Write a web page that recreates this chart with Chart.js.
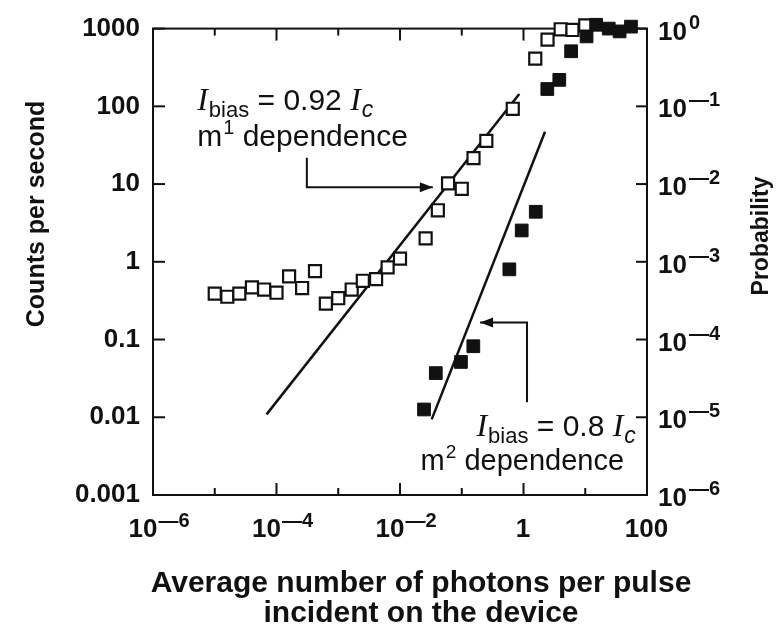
<!DOCTYPE html>
<html><head><meta charset="utf-8">
<script src="https://cdn.jsdelivr.net/npm/chart.js@4.4.0/dist/chart.umd.min.js"></script>
<style>html,body{margin:0;padding:0;background:#fff;}canvas{display:block;}</style>
</head><body>
<canvas id="c" width="779" height="634"></canvas>
<script>
// ---- data ----
const openX = [1.0e-5, 1.6e-5, 2.5e-5, 4.0e-5, 6.3e-5, 1.0e-4, 1.6e-4, 2.6e-4, 4.2e-4, 6.3e-4, 1.0e-3, 1.65e-3, 2.5e-3, 4.1e-3, 6.3e-3, 1.0e-2, 2.6e-2, 4.1e-2, 6.0e-2, 1.0e-1, 1.55e-1, 2.5e-1, 6.7e-1, 1.55, 2.45, 4.0, 6.2, 10];
const openY = [0.39, 0.355, 0.39, 0.47, 0.44, 0.40, 0.65, 0.46, 0.76, 0.29, 0.34, 0.44, 0.57, 0.60, 0.85, 1.1, 2.0, 4.6, 10.2, 8.7, 21.6, 36, 93, 410, 720, 980, 960, 1100];
const filledX = [0.0245, 0.038, 0.097, 0.154, 0.59, 0.935, 1.58, 2.43, 3.8, 5.9, 10.5, 15, 24, 36, 55];
const filledY = [0.0126, 0.037, 0.0515, 0.082, 0.80, 2.53, 4.4, 167, 219, 511, 794, 1120, 1000, 920, 1060];
const fit1X = [6.9e-5, 0.855];
const fit1Y = [0.0109, 144];
const fit2X = [0.0326, 2.23];
const fit2Y = [0.0094, 47];
const countTicks = [0.001, 0.01, 0.1, 1, 10, 100, 1000];
const countTickLabels = ['0.001', '0.01', '0.1', '1', '10', '100', '1000'];
const photonTicks = [1e-6, 1e-5, 1e-4, 1e-3, 1e-2, 1e-1, 1, 10, 100];
const photonTickBase = ['10', '', '10', '', '10', '', '1', '', '100'];
const photonTickExp = ['\u20146', '', '\u20144', '', '\u20142', '', '', '', ''];
const probTicks = [1e-6, 1e-5, 1e-4, 1e-3, 1e-2, 1e-1, 1];
const probTickExp = ['\u20146', '\u20145', '\u20144', '\u20143', '\u20142', '\u20141', '0'];

// annotation anchors, in data units (x: photons, y: counts per second)
const ann1Text = {x1: 5.2e-6, x2: 5.2e-6, y1: 88.5, y2: 30.9};
const ann1Arrow = [[3.1e-4, 21.8], [3.1e-4, 9.1], [0.034, 9.1]];
const ann2Text = {x1: 66, x2: 42.5, y1: 0.00577, y2: 0.00207};
const ann2Arrow = [[1.14, 0.0156], [1.14, 0.166], [0.198, 0.166]];

const SANS = '"Liberation Sans", Arial, Helvetica, sans-serif';
const SERIF = '"Liberation Serif", "Times New Roman", serif';
const INK = '#111';

function pts(xs, ys) { return xs.map((x, i) => ({x: x, y: ys[i]})); }
function near(a, b) { return Math.abs(Math.log10(a) - Math.log10(b)) < 1e-6; }

function drawRich(ctx, parts, x, y, align) {
  let total = 0;
  parts.forEach(p => { ctx.font = p.font; p.w = ctx.measureText(p.t).width + (p.gap || 0); total += p.w; });
  let cx = align === 'right' ? x - total : align === 'center' ? x - total / 2 : x;
  parts.forEach(p => { ctx.font = p.font; ctx.fillText(p.t, cx, y + (p.dy || 0)); cx += p.w; });
}
function seg(ctx, x1, y1, x2, y2) { ctx.beginPath(); ctx.moveTo(x1, y1); ctx.lineTo(x2, y2); ctx.stroke(); }
function arrow(ctx, path) {
  ctx.beginPath();
  ctx.moveTo(path[0][0], path[0][1]);
  for (let i = 1; i < path.length; i++) ctx.lineTo(path[i][0], path[i][1]);
  ctx.stroke();
  const [ax, ay] = path[path.length - 2], [bx, by] = path[path.length - 1];
  const ang = Math.atan2(by - ay, bx - ax), L = 13, W = 5;
  ctx.beginPath();
  ctx.moveTo(bx, by);
  ctx.lineTo(bx - L * Math.cos(ang) + W * Math.sin(ang), by - L * Math.sin(ang) - W * Math.cos(ang));
  ctx.lineTo(bx - L * Math.cos(ang) - W * Math.sin(ang), by - L * Math.sin(ang) + W * Math.cos(ang));
  ctx.closePath(); ctx.fill();
}

const framePlugin = {
  id: 'frame',
  beforeDatasetsDraw(chart) {
    const {ctx, chartArea: a, scales: {x, y, y2}} = chart;
    ctx.save();
    ctx.strokeStyle = INK; ctx.lineWidth = 2;
    ctx.strokeRect(a.left, a.top, a.right - a.left, a.bottom - a.top);
    photonTicks.forEach((v, i) => {
      const px = x.getPixelForValue(v);
      const len = i % 2 === 0 ? 12 : 7;
      seg(ctx, px, a.bottom, px, a.bottom - len);
      seg(ctx, px, a.top, px, a.top + len);
    });
    countTicks.forEach(v => { const py = y.getPixelForValue(v); seg(ctx, a.left, py, a.left + 12, py); });
    probTicks.forEach(v => { const py = y2.getPixelForValue(v); seg(ctx, a.right, py, a.right - 11, py); });
    ctx.restore();
  },
  afterDraw(chart) {
    const {ctx, chartArea: a, scales: {x, y, y2}} = chart;
    ctx.save();
    ctx.fillStyle = INK; ctx.strokeStyle = INK;
    ctx.textAlign = 'left'; ctx.textBaseline = 'alphabetic';
    const B = 'bold 26px ' + SANS, BS = 'bold 20px ' + SANS;
    // x tick labels
    photonTicks.forEach((v, i) => {
      if (!photonTickBase[i]) return;
      const px = x.getPixelForValue(v);
      const parts = [{t: photonTickBase[i], font: B, gap: 1}];
      if (photonTickExp[i]) parts.push({t: photonTickExp[i], font: BS, dy: -10});
      drawRich(ctx, parts, px + (photonTickExp[i] ? 6 : 0), a.bottom + 42, 'center');
    });
    // right tick labels
    probTicks.forEach((v, i) => {
      const py = y2.getPixelForValue(v);
      drawRich(ctx, [{t: '10', font: B, gap: 2}, {t: probTickExp[i], font: BS, dy: -11}], a.right + 11, py + 11, 'left');
    });
    // axis titles
    ctx.textAlign = 'center'; ctx.textBaseline = 'middle';
    ctx.font = 'bold 25px ' + SANS;
    ctx.save(); ctx.translate(37, 214); ctx.rotate(-Math.PI / 2); ctx.fillText('Counts per second', 0, 0); ctx.restore();
    ctx.font = 'bold 23px ' + SANS;
    ctx.save(); ctx.translate(762, 236); ctx.rotate(-Math.PI / 2); ctx.fillText('Probability', 0, 0); ctx.restore();
    ctx.font = 'bold 30px ' + SANS;
    ctx.fillText('Average number of photons per pulse', 421, 584);
    ctx.fillText('incident on the device', 421, 614);
    // annotations
    ctx.textAlign = 'left'; ctx.textBaseline = 'alphabetic';
    const R = '30px ' + SANS, RS = '22px ' + SANS, I = 'italic 32px ' + SERIF, IS = 'italic 23px ' + SANS;
    drawRich(ctx, [{t: 'I', font: I, gap: 1}, {t: 'bias', font: RS, dy: 7}, {t: ' = 0.92 ', font: R}, {t: 'I', font: I, gap: 1}, {t: 'c', font: IS, dy: 7}], x.getPixelForValue(ann1Text.x1), y.getPixelForValue(ann1Text.y1), 'left');
    drawRich(ctx, [{t: 'm', font: R, gap: 1}, {t: '1', font: '20px ' + SANS, dy: -12}, {t: ' dependence', font: R}], x.getPixelForValue(ann1Text.x2), y.getPixelForValue(ann1Text.y2), 'left');
    const R2 = '29px ' + SANS, RS2 = '22px ' + SANS, I2 = 'italic 32px ' + SERIF, IS2 = 'italic 23px ' + SANS;
    drawRich(ctx, [{t: 'I', font: I2, gap: 1}, {t: 'bias', font: RS2, dy: 7}, {t: ' = 0.8 ', font: '30px ' + SANS}, {t: 'I', font: I2, gap: 1}, {t: 'c', font: IS2, dy: 7}], x.getPixelForValue(ann2Text.x1), y.getPixelForValue(ann2Text.y1), 'right');
    drawRich(ctx, [{t: 'm', font: R2, gap: 1}, {t: '2', font: '19px ' + SANS, dy: -12}, {t: ' dependence', font: R2}], x.getPixelForValue(ann2Text.x2), y.getPixelForValue(ann2Text.y2), 'right');
    ctx.lineWidth = 2;
    arrow(ctx, ann1Arrow.map(p => [x.getPixelForValue(p[0]), y.getPixelForValue(p[1])]));
    arrow(ctx, ann2Arrow.map(p => [x.getPixelForValue(p[0]), y.getPixelForValue(p[1])]));
    ctx.restore();
  }
};

new Chart(document.getElementById('c'), {
  type: 'scatter',
  data: {
    datasets: [
      {label: 'Ibias = 0.8 Ic', data: pts(filledX, filledY), pointStyle: 'rect', pointRadius: 9, backgroundColor: INK, borderColor: INK, borderWidth: 1, order: 0, clip: false, yAxisID: 'y'},
      {label: 'Ibias = 0.92 Ic', data: pts(openX, openY), pointStyle: 'rect', pointRadius: 8.5, backgroundColor: '#fff', borderColor: INK, borderWidth: 2.2, order: 1, clip: false, yAxisID: 'y'},
      {type: 'line', label: 'm1 fit', data: pts(fit1X, fit1Y), showLine: true, pointRadius: 0, borderColor: INK, borderWidth: 2.5, order: 2, yAxisID: 'y'},
      {type: 'line', label: 'm2 fit', data: pts(fit2X, fit2Y), showLine: true, pointRadius: 0, borderColor: INK, borderWidth: 2.5, order: 2, yAxisID: 'y'}
    ]
  },
  options: {
    responsive: false, animation: false, events: [],
    layout: {padding: {top: 22, left: 0, right: 0, bottom: 0}},
    plugins: {legend: {display: false}, tooltip: {enabled: false}},
    scales: {
      x: {type: 'logarithmic', min: 1e-6, max: 100,
        afterBuildTicks(s) { s.ticks = photonTicks.map(v => ({value: v})); },
        afterFit(s) { s.height = 139; },
        ticks: {display: false}, grid: {display: false}, border: {display: false}},
      y: {type: 'logarithmic', position: 'left', min: 0.001, max: 1000,
        afterBuildTicks(s) { s.ticks = countTicks.map(v => ({value: v})); },
        afterFit(s) { s.width = 153; },
        ticks: {autoSkip: false, padding: 13, color: INK, font: {family: SANS, size: 26, weight: 'bold'},
          callback(v) { const i = countTicks.findIndex(t => near(t, v)); return i >= 0 ? countTickLabels[i] : ''; }},
        grid: {display: false, drawTicks: false}, border: {display: false}},
      y2: {type: 'logarithmic', position: 'right', min: 1e-6, max: 1,
        afterBuildTicks(s) { s.ticks = probTicks.map(v => ({value: v})); },
        afterFit(s) { s.width = 132; },
        ticks: {display: false}, grid: {display: false}, border: {display: false}}
    }
  },
  plugins: [framePlugin]
});
</script>
</body></html>
